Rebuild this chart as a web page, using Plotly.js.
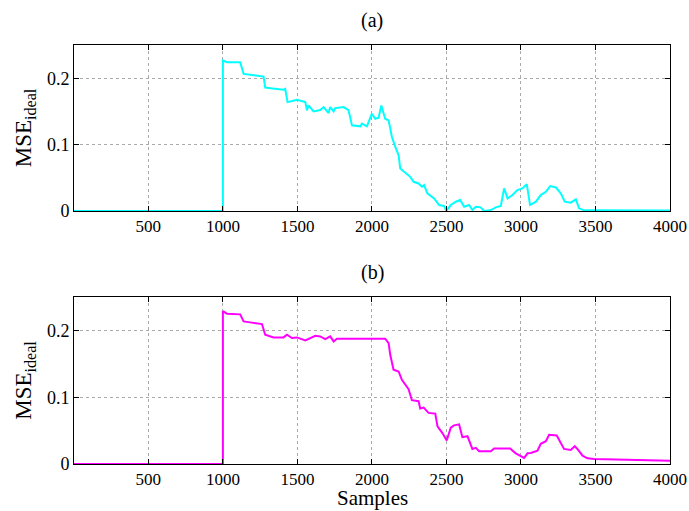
<!DOCTYPE html>
<html><head><meta charset="utf-8">
<script src="https://cdn.plot.ly/plotly-3.0.1.min.js"></script>
<style>body{margin:0;background:#fff}#c{width:689px;height:511px}</style>
</head><body><div id="c"></div>
<script>
var xA = [1,999,1000,1000,1027,1116,1139,1273,1284,1320,1407,1418,1434,1497,1553,1564,1575,1608,1653,1676,1709,1720,1743,1754,1810,1843,1866,1922,1933,1966,2000,2022,2045,2063,2089,2112,2134,2157,2179,2190,2235,2257,2280,2313,2336,2350,2372,2417,2451,2484,2500,2529,2563,2592,2619,2652,2674,2697,2730,2753,2798,2831,2865,2887,2910,2943,2976,3010,3039,3061,3100,3133,3167,3196,3234,3267,3294,3334,3368,3390,3424,4000];
var yA = [0,0,0,0.2265,0.224,0.224,0.2065,0.2025,0.186,0.185,0.1825,0.184,0.164,0.1675,0.164,0.1515,0.159,0.150,0.152,0.1565,0.1475,0.1565,0.150,0.155,0.1565,0.152,0.129,0.1275,0.1315,0.1275,0.1465,0.139,0.1405,0.159,0.139,0.1365,0.1115,0.0965,0.084,0.064,0.0565,0.0515,0.044,0.0415,0.0365,0.039,0.0265,0.019,0.009,0.0075,0.0005,0.009,0.014,0.0165,0.0065,0.009,0.0015,0.0065,0.0055,0.0,0.0015,0.0055,0.0075,0.034,0.019,0.024,0.0315,0.034,0.0405,0.009,0.014,0.024,0.029,0.0375,0.0355,0.0265,0.014,0.0125,0.0175,0.004,0.001,0.0008];
var xB = [1,999,1000,1000,1027,1116,1139,1183,1262,1284,1340,1407,1430,1463,1497,1553,1586,1620,1653,1687,1720,1743,1765,2089,2112,2123,2145,2179,2201,2224,2246,2268,2313,2324,2347,2380,2425,2440,2473,2502,2529,2551,2585,2607,2641,2674,2697,2719,2798,2820,2927,2965,2999,3021,3044,3066,3111,3133,3167,3189,3240,3267,3289,3334,3361,3384,3413,3446,3491,4000];
var yB = [0,0,0,0.2287,0.225,0.224,0.2135,0.212,0.2095,0.1935,0.1895,0.1895,0.1935,0.1885,0.1895,0.185,0.1885,0.192,0.191,0.187,0.191,0.1835,0.1875,0.1875,0.181,0.1635,0.141,0.1385,0.126,0.1185,0.112,0.0955,0.094,0.083,0.0845,0.0765,0.0755,0.0563,0.0463,0.0352,0.0543,0.0578,0.0593,0.0402,0.0417,0.0226,0.0241,0.0191,0.0191,0.0231,0.0231,0.016,0.0125,0.009,0.016,0.0165,0.0201,0.0302,0.0342,0.0437,0.0427,0.0327,0.0226,0.0211,0.0266,0.0211,0.0125,0.0085,0.0075,0.005];
var xTicks = [500,1000,1500,2000,2500,3000,3500,4000];
var yTicks = [0,0.1,0.2];
var yTickText = ['0','0.1','0.2'];
var F = 'Liberation Serif';

function xax(anchor){
  return {domain:[0,1], range:[1,4000], anchor:anchor, tickmode:'array', tickvals:xTicks,
    ticks:'inside', ticklen:5, tickcolor:'#000', mirror:'ticks', showline:true, linecolor:'#000', linewidth:1,
    showgrid:true, gridcolor:'#aaa', griddash:'dot', gridwidth:1, zeroline:false,
    tickfont:{family:F,size:17,color:'#000'}};
}
function yax(anchor, dom){
  return {domain:dom, range:[0,0.25], anchor:anchor, tickmode:'array', tickvals:yTicks, ticktext:yTickText,
    ticks:'inside', ticklen:5, tickcolor:'#000', mirror:'ticks', showline:true, linecolor:'#000', linewidth:1,
    showgrid:true, gridcolor:'#aaa', griddash:'dot', gridwidth:1, zeroline:false,
    tickfont:{family:F,size:18,color:'#000'},
    title:{text:'MSE<sub>ideal</sub>', font:{family:F,size:23,color:'#000'}, standoff:8}};
}
var data = [
  {x:xA, y:yA, type:'scatter', mode:'lines', line:{color:'#00FFFF', width:2}, xaxis:'x', yaxis:'y', hoverinfo:'skip'},
  {x:xB, y:yB, type:'scatter', mode:'lines', line:{color:'#FF00FF', width:2}, xaxis:'x2', yaxis:'y2', hoverinfo:'skip'}
];
var layout = {
  width:689, height:511, showlegend:false, paper_bgcolor:'#fff', plot_bgcolor:'#fff',
  margin:{l:74, r:19, t:45, b:47},
  xaxis: xax('y'), yaxis: yax('x', [0.6038,1]),
  xaxis2: xax('y2'), yaxis2: yax('x2', [0,0.3986]),
  annotations:[
    {text:'(a)', xref:'paper', yref:'paper', x:0.5, y:1, yshift:11, xanchor:'center', yanchor:'bottom', showarrow:false, font:{family:F,size:20,color:'#000'}},
    {text:'(b)', xref:'paper', yref:'paper', x:0.5, y:0.3986, yshift:11, xanchor:'center', yanchor:'bottom', showarrow:false, font:{family:F,size:20,color:'#000'}},
    {text:'Samples', xref:'paper', yref:'paper', x:0.5, y:0, yshift:-34, xanchor:'center', yanchor:'middle', showarrow:false, font:{family:F,size:21,color:'#000'}}
  ]
};
Plotly.newPlot('c', data, layout, {staticPlot:true});
</script></body></html>
